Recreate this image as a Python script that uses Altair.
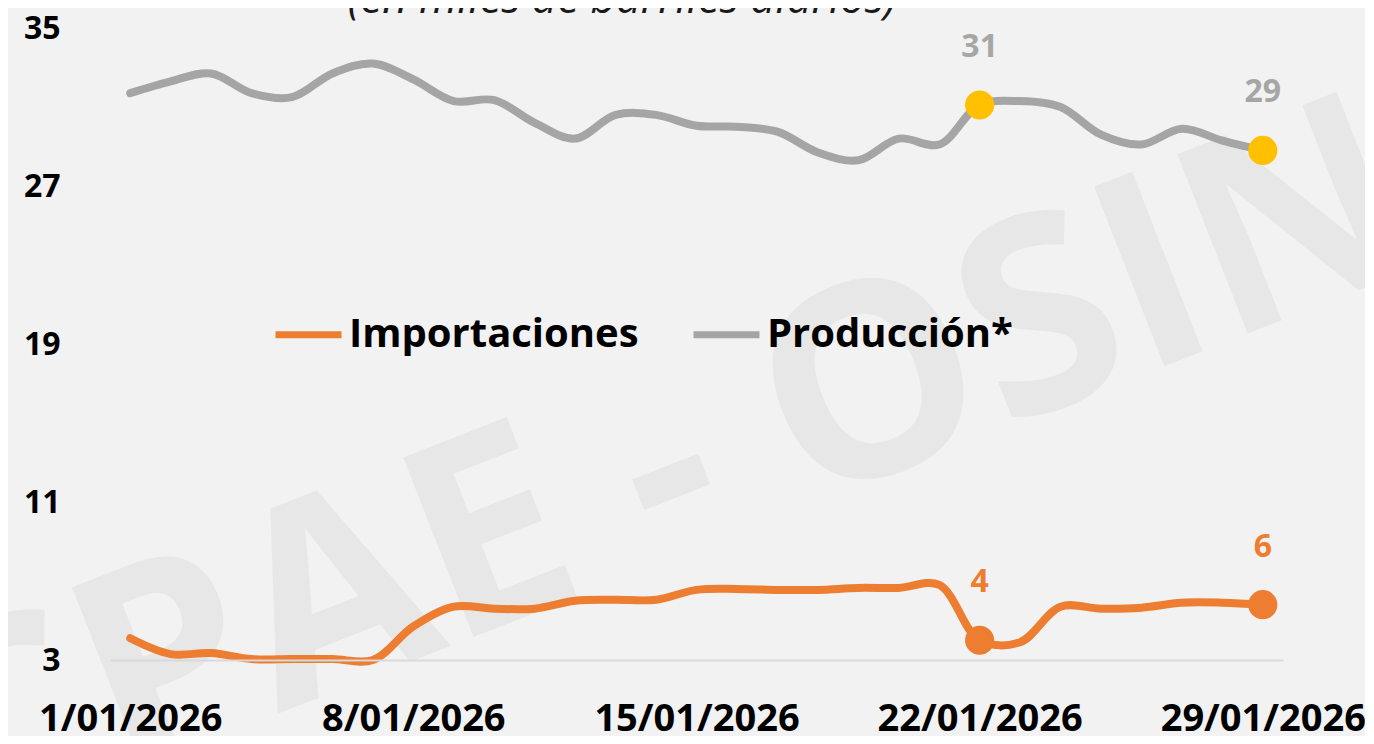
import altair as alt
import pandas as pd

# ---- data ----
days = list(range(1, 30))
produccion = [31.7, 32.3, 32.7, 31.7, 31.5, 32.7, 33.2, 32.4, 31.3, 31.35,
              30.2, 29.4, 30.6, 30.6, 30.05, 30.0, 29.75, 28.7, 28.3, 29.4,
              29.1, 31.1, 31.3, 31.0, 29.6, 29.1, 29.9, 29.3, 28.8]
importaciones = [4.1, 3.3, 3.35, 3.05, 3.05, 3.05, 3.0, 4.7, 5.7, 5.6,
                 5.6, 6.0, 6.05, 6.05, 6.55, 6.6, 6.55, 6.55, 6.65, 6.65,
                 6.8, 4.0, 3.9, 5.7, 5.6, 5.65, 5.9, 5.9, 5.8]
series = ["Importaciones", "Producción*"]
series_colors = ["#ED7D31", "#A5A5A5"]
highlight_days = [22, 29]
point_colors = {"Importaciones": "#ED7D31", "Producción*": "#FFC000"}
label_colors = {"Importaciones": "#ED7D31", "Producción*": "#A6A6A6"}
x_tick_days = [1, 8, 15, 22, 29]
y_ticks = [3, 11, 19, 27, 35]
title_text = ["(en miles de barriles diarios)"]
watermark_text = ["CPAE - OSINERGMIN"]

FONT = "Open Sans"

rows = []
for d, v in zip(days, importaciones):
    rows.append({"dia": d, "valor": v, "serie": series[0]})
for d, v in zip(days, produccion):
    rows.append({"dia": d, "valor": v, "serie": series[1]})
df = pd.DataFrame(rows)

df_pts = df[df["dia"].isin(highlight_days)].copy()
df_pts["punto"] = df_pts["serie"].map(point_colors)
df_pts["etiqueta"] = df_pts["serie"].map(label_colors)

x_enc = alt.X("dia:Q",
              scale=alt.Scale(domain=[0.5, 29.5], nice=False, zero=False),
              axis=alt.Axis(values=x_tick_days,
                            labelExpr="datum.value + '/01/2026'",
                            title=None, grid=False, ticks=False,
                            domainColor="#D9D9D9", domainWidth=2,
                            labelFont=FONT, labelFontSize=38,
                            labelFontWeight="bold", labelColor="#000000",
                            labelPadding=40, labelFlush=False,
                            labelLimit=0, labelOverlap=False, zindex=2))
y_enc = alt.Y("valor:Q",
              scale=alt.Scale(domain=[3, 35], nice=False, zero=False),
              axis=alt.Axis(values=y_ticks, title=None, grid=False,
                            ticks=False, domain=False,
                            labelFont=FONT, labelFontSize=32,
                            labelFontWeight="bold", labelColor="#000000",
                            labelPadding=50, labelLimit=0, zindex=2))

watermark = alt.Chart(pd.DataFrame({"t": watermark_text})).mark_text(
    align="left", baseline="middle", angle=338.6, fontSize=270,
    font=FONT, fontWeight="bold", color="#E7E7E7"
).encode(x=alt.value(-180), y=alt.value(735), text="t:N")

title = alt.Chart(pd.DataFrame({"t": title_text})).mark_text(
    align="center", baseline="alphabetic", fontSize=44, font=FONT,
    fontStyle="italic", color="#1A1A1A"
).encode(x=alt.value(512), y=alt.value(-15), text="t:N")

lines = alt.Chart(df).mark_line(
    strokeWidth=8, interpolate="catmull-rom", strokeCap="round"
).encode(
    x=x_enc, y=y_enc,
    color=alt.Color("serie:N",
                    scale=alt.Scale(domain=series, range=series_colors),
                    legend=alt.Legend(orient="none", legendX=162, legendY=270,
                                      direction="horizontal", title=None,
                                      symbolType="stroke", symbolSize=4356,
                                      symbolStrokeWidth=7,
                                      labelFont=FONT, labelFontSize=40,
                                      labelFontWeight="bold",
                                      labelColor="#000000",
                                      columnPadding=40, labelOffset=4,
                                      labelLimit=0)),
    detail="serie:N",
)

points = alt.Chart(df_pts).mark_point(
    filled=True, size=850, opacity=1, shape="circle"
).encode(x="dia:Q", y="valor:Q", color=alt.Color("punto:N", scale=None))

labels = alt.Chart(df_pts).mark_text(
    dy=-58, fontSize=32, font=FONT, fontWeight="bold"
).encode(x="dia:Q", y="valor:Q",
         text=alt.Text("valor:Q", format=".0f"),
         color=alt.Color("etiqueta:N", scale=None))

chart = alt.layer(watermark, title, lines, points, labels).properties(
    width=1173, height=632,
    autosize=alt.AutoSizeParams(type="none"),
    padding={"left": 102, "top": 20, "right": 82, "bottom": 76},
    background="#F2F2F2",
).configure_view(stroke=None)

chart.save("out.html", embed_options={"renderer": "svg", "actions": False})
